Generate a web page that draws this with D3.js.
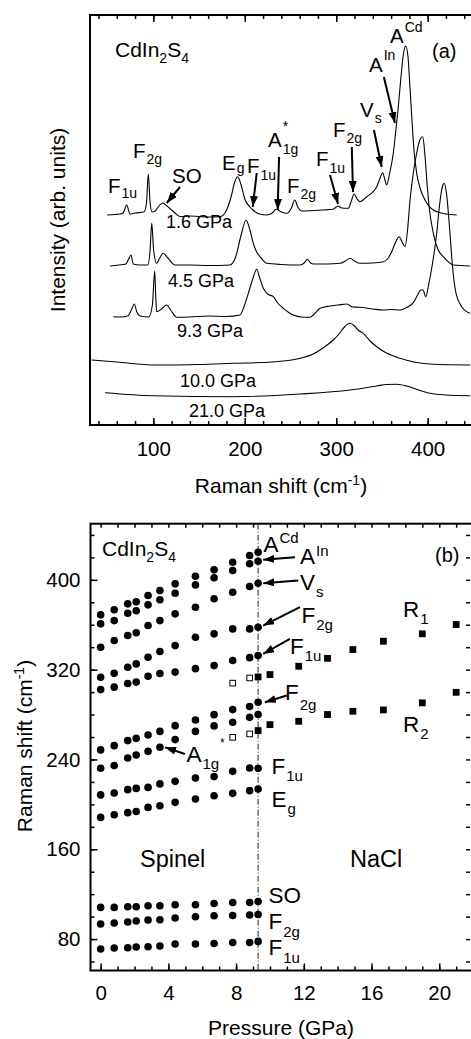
<!DOCTYPE html>
<html>
<head>
<meta charset="utf-8">
<script src="https://cdn.jsdelivr.net/npm/d3@7"></script>
<style>
  body { margin: 0; background: #fff; }
  text { font-family: "Liberation Sans", Arial, Helvetica, sans-serif; fill: #000; }
  .tick text { font-size: 20.5px; font-family: "Liberation Sans", Arial, sans-serif; }
  .tick line { stroke: #000; stroke-width: 1.5; }
</style>
</head>
<body>
<script>
// ---- panel (a): Raman spectra, [raman shift (cm-1), intensity (arb.)] ----
var spec16 = [[49.4,210],[58,210.5],[63.6,211],[67,212],[70.9,220],[74.5,211],[80,212],[89.8,213],[92.5,222],[94.5,251],[96.5,222],[98.6,213],[102,214],[106,219],[110.3,222],[115,219],[123.7,212],[129.2,208.5],[140,209],[150,208.5],[160,208],[172.9,208.3],[179,213],[185,228],[189,243],[192.3,248.3],[196,240],[200,226],[205.7,218],[209,215],[216,211],[224,210],[230,212],[234.2,215.7],[240,213],[245.9,211.7],[251,217],[254.6,225],[258,218],[262.3,214],[271.4,214.3],[285,215],[296.5,215.7],[302,219],[306,217],[313.2,216.7],[316.5,224],[319.5,230.7],[323,226],[326,223.3],[333.4,228.3],[340,233],[344.3,238.3],[348,247],[350.8,252.3],[353,246],[355.2,240],[358,250],[362.4,271.7],[365,293],[367.9,318.3],[371,350],[373.5,371],[376,379],[378.5,368],[380.5,340],[382.6,308.3],[385,275],[388,251.7],[392,236],[397.1,225],[406.2,215],[420,211],[431.8,210]];
var spec45 = [[52.7,159],[62,160],[70,161],[73,166],[75.6,170],[78.1,161],[85,160],[94,160],[96.5,175],[98.3,202],[100.3,175],[103.7,161.7],[107,167],[110.9,171.7],[116,167],[123.7,160],[140,160],[160,159.5],[183.9,160],[190,168],[196,190],[201.4,205],[205,197],[209.4,181.7],[213,173],[216.7,168.3],[224,161.7],[240,160.5],[260.4,160],[265,162],[268.4,165.7],[272,162],[275,161],[290,161],[304.2,161.7],[310,164],[315.1,166.7],[320,164],[326,161.7],[340,162],[351.5,163.3],[356,166],[360.7,173.3],[365,183],[368.7,188.3],[372,183],[375.2,178.3],[378,195],[380.7,225],[384,250],[388,272],[391,284],[394.6,288.3],[397,270],[399.6,238.3],[402,215],[406.2,191.7],[411,176],[417.1,168.3],[428.1,160],[446.3,159]];
var spec93 = [[56.3,108.3],[65,108],[72,109],[76,115],[79.2,121],[82,113],[85.5,109],[95,108],[99,120],[101.5,154],[102.8,125],[103.7,113.3],[109,116],[114.7,120],[119,115],[125.6,107.7],[140,108],[160,109],[180,108.5],[194.8,110],[199,118],[203.9,131.7],[208,144],[213.1,155.7],[216,148],[220.3,136.7],[225,131],[231.2,128.3],[236,122],[242.2,116.7],[253.1,110],[262,108],[271.4,107.7],[277,112],[282.3,116.7],[293.2,119],[302,120],[311.5,121],[318,118],[326,117.7],[340,116],[351.5,115],[360,115.5],[369.8,115],[378,118],[384.3,122.3],[389,130],[392.5,135],[394.9,135],[397.9,128.3],[401,140],[405,160],[409.9,191.7],[413,220],[416,238],[418.2,241.7],[420.5,232],[424.4,191.7],[427,160],[431,131.7],[437.2,118.3],[446.3,111.7]];
var spec100 = [[32.6,65],[60,63],[101.9,60],[150,60.5],[187.5,61.7],[230,63],[260.4,66.7],[275,71],[282.3,75],[290,80],[296.8,85],[303,91],[309,98],[315.1,101.7],[320,99],[324,95],[329.6,91.7],[337,84],[344.3,78.3],[355,72],[369.8,66.7],[385,63],[406.2,60.7],[446.3,60]];
var spec210 = [[47.2,32.3],[100,29.3],[187.5,28.3],[260.4,31],[315.1,35],[344.3,39],[355,40.5],[366.2,40.7],[377,39],[388,35.7],[402.6,31.7],[420,30],[446.3,29.3]];
var spectra = [spec16, spec45, spec93, spec100, spec210];
var specLabels = ["1.6 GPa", "4.5 GPa", "9.3 GPa", "10.0 GPa", "21.0 GPa"];
var ramanTicks = [100, 200, 300, 400];

// ---- panel (b): mode frequencies vs pressure ----
var spinelP = [0, 0.8, 1.6, 2.1, 2.8, 3.5, 4.4, 5.6, 6.7, 7.8, 8.8, 9.3];
var aCd  = [368.8, 373.3, 378.6, 380.4, 386.0, 390.5, 396.4, 403.2, 408.9, 415.7, 421.7, 424.6];
var aIn  = [360.8, 363.7, 370.2, 372.4, 377.7, 382.2, 388.1, 395.5, 401.8, 408.3, 414.3, 416.6];
var vS   = [339.9, 345.9, 350.4, 352.8, 359.3, 363.7, 369.7, 375.6, 383.1, 389.0, 394.0, 397.0];
var f2gHi = [313.2, 316.7, 322.1, 325.1, 331.0, 336.1, 341.4, 348.8, 351.9, 356.3, 356.3, 357.7];
var f1uHi = [302.2, 304.4, 307.6, 308.9, 314.1, 316.5, 317.8, 320.9, 323.6, 328.1, 330.7, 332.5];
var f2gMid = [248.5, 252.3, 256.8, 258.8, 261.8, 265.0, 270.1, 275.2, 279.9, 284.4, 287.1, 290.9];
var a1g  = [232.1, 234.5, 241.3, 244.0, 247.2, 250.8, 257.7, 265.0, 269.9, 273.1, 277.5, 280.0];
var f1uMid = [208.4, 210.1, 213.1, 214.2, 215.1, 218.2, 220.5, 223.5, 224.7, 229.4, 232.4, 232.1];
var eg   = [188.4, 190.8, 192.6, 193.7, 197.3, 198.8, 201.8, 204.8, 207.7, 209.8, 212.2, 213.7];
var so   = [108.2, 108.2, 108.8, 108.8, 109.7, 109.7, 110.6, 110.6, 111.7, 112.6, 112.6, 113.5];
var f2gLo = [93.4, 94.3, 95.2, 96.1, 97.0, 97.2, 98.7, 99.9, 100.8, 101.0, 101.4, 101.9];
var f1uLo = [71.1, 72.0, 72.3, 72.9, 73.2, 73.8, 75.6, 75.6, 76.1, 77.0, 77.0, 77.9];
var spinelModes = [aCd, aIn, vS, f2gHi, f1uHi, f2gMid, a1g, f1uMid, eg, so, f2gLo, f1uLo];
var naclP = [9.3, 10.0, 11.7, 13.4, 14.9, 16.7, 19.0, 21.0];
var r1 = [313.5, 315.6, 323.0, 330.1, 337.9, 345.3, 351.9, 360.2];
var r2 = [265.7, 271.0, 274.0, 280.0, 282.9, 284.1, 290.4, 299.8];
var openP = [7.8, 8.8];
var open1 = [308.0, 312.6];
var open2 = [259.7, 262.7];
var transitionP = 9.3;
var pressureTicks = [0, 4, 8, 12, 16, 20];
var shiftTicks = [80, 160, 240, 320, 400];

var W = 471, H = 1039;
var svg = d3.select("body").append("svg").attr("width", W).attr("height", H);

svg.append("defs").append("marker")
  .attr("id", "arr")
  .attr("markerUnits", "userSpaceOnUse")
  .attr("markerWidth", 11).attr("markerHeight", 8)
  .attr("refX", 11).attr("refY", 4)
  .attr("orient", "auto")
  .append("path").attr("d", "M0,0 L11,4 L0,8 z").attr("fill", "#000");

// label with optional sub/superscript placed after the base text
function mode(g, x, y, base, sub, sup, fs, sfs, subDy, supDy) {
  var t = g.append("text").attr("x", x).attr("y", y).style("font-size", fs + "px").text(base);
  var w = t.node().getComputedTextLength();
  if (sup) g.append("text").attr("x", x + w + 1).attr("y", y + supDy).style("font-size", sfs + "px").text(sup);
  if (sub) g.append("text").attr("x", x + w + 1).attr("y", y + subDy).style("font-size", sfs + "px").text(sub);
}

function compound(g, x, y) {
  var t = g.append("text").attr("x", x).attr("y", y).style("font-size", "21px");
  t.append("tspan").text("CdIn");
  t.append("tspan").attr("dy", 6).style("font-size", "14px").text("2");
  t.append("tspan").attr("dy", -6).text("S");
  t.append("tspan").attr("dy", 6).style("font-size", "14px").text("4");
}

function cmTitle(t, pre) {
  t.append("tspan").text(pre + " (cm");
  t.append("tspan").attr("dy", -8).style("font-size", "14px").text("-1");
  t.append("tspan").attr("dy", 8).text(")");
}

function cleanAxis(sel) {
  sel.select(".domain").remove();
  sel.attr("font-family", null).attr("font-size", null);
}

// ================= panel (a) =================
var xa = d3.scaleLinear().domain([30, 450]).range([89.3, 473.4]);
var ya = d3.scaleLinear().domain([0, 410]).range([425, 15]);
var ga = svg.append("g");

var minorA = d3.range(40, 451, 20);
ga.append("g").attr("transform", "translate(0,425)")
  .call(d3.axisBottom(xa).tickValues(minorA).tickSize(-4).tickFormat("")).call(cleanAxis);
ga.append("g").attr("transform", "translate(0,425)")
  .call(d3.axisBottom(xa).tickValues(ramanTicks).tickSize(-7).tickPadding(16)).call(cleanAxis);
ga.append("g").attr("transform", "translate(0,15)")
  .call(d3.axisTop(xa).tickValues(minorA).tickSize(-4).tickFormat("")).call(cleanAxis);
ga.append("g").attr("transform", "translate(0,15)")
  .call(d3.axisTop(xa).tickValues(ramanTicks).tickSize(-7).tickFormat("")).call(cleanAxis);

ga.append("rect").attr("x", xa.range()[0] + 0.7).attr("y", 15)
  .attr("width", xa.range()[1] - xa.range()[0]).attr("height", 410)
  .attr("fill", "none").attr("stroke", "#000").attr("stroke-width", 2);

var lineA = d3.line().x(d => xa(d[0])).y(d => ya(d[1])).curve(d3.curveMonotoneX);
ga.selectAll("path.spec").data(spectra).enter().append("path")
  .attr("class", "spec")
  .attr("d", lineA)
  .attr("fill", "none").attr("stroke", "#000").attr("stroke-width", 1.1);

// pressure labels under each spectrum
var specLabelPos = [[166, 228], [168, 287], [177, 337], [180, 387], [189, 417]];
ga.selectAll("text.plab").data(specLabels).enter().append("text")
  .attr("class", "plab")
  .attr("x", (d, i) => specLabelPos[i][0]).attr("y", (d, i) => specLabelPos[i][1])
  .style("font-size", "18px").text(d => d);

compound(ga, 115, 57);
ga.append("text").attr("x", 432).attr("y", 58).style("font-size", "20px").text("(a)");

mode(ga, 390, 43, "A", null, "Cd", 20.5, 14, 6, -11);
mode(ga, 369, 72, "A", null, "In", 20.5, 14, 6, -12);
mode(ga, 360, 117, "V", "s", null, 20.5, 14, 6, -11);
mode(ga, 333, 137, "F", "2g", null, 20.5, 14, 6, -11);
mode(ga, 316, 166, "F", "1u", null, 20.5, 14, 7, -11);
mode(ga, 287, 193, "F", "2g", null, 20.5, 14, 6, -11);
mode(ga, 268, 147, "A", "1g", "*", 20.5, 14, 7, -16);
mode(ga, 247, 173, "F", "1u", null, 20.5, 14, 7, -11);
mode(ga, 222, 170, "E", "g", null, 20.5, 14, 3, -11);
ga.append("text").attr("x", 172).attr("y", 183).style("font-size", "20.5px").text("SO");
mode(ga, 133, 158, "F", "2g", null, 20.5, 14, 6, -11);
mode(ga, 108, 193, "F", "1u", null, 20.5, 14, 5, -11);

// arrows, [tail raman, tail I, tip raman, tip I]
var arrowsA = [[129.2, 238, 114.7, 222], [213.1, 252, 208.7, 218], [237.5, 268, 236, 215],
  [293.2, 250, 302, 221], [317, 278, 318.4, 233], [341.2, 295, 349.7, 258], [352.1, 348, 364.2, 302]];
ga.selectAll("line.arr").data(arrowsA).enter().append("line")
  .attr("x1", d => xa(d[0])).attr("y1", d => ya(d[1]))
  .attr("x2", d => xa(d[2])).attr("y2", d => ya(d[3]))
  .attr("stroke", "#000").attr("stroke-width", 2).attr("marker-end", "url(#arr)");

var ytA = ga.append("text").attr("transform", "translate(65,220) rotate(-90)")
  .attr("text-anchor", "middle").style("font-size", "21px").text("Intensity (arb. units)");
var xtA = ga.append("text").attr("x", 281).attr("y", 493).attr("text-anchor", "middle").style("font-size", "21px");
cmTitle(xtA, "Raman shift");

// ================= panel (b) =================
var xb = d3.scaleLinear().domain([-0.6, 22]).range([90.5, 473.1]);
var yb = d3.scaleLinear().domain([52, 450]).range([970.5, 523.7]);
var gb = svg.append("g");
var bTop = yb.range()[1], bBot = yb.range()[0];

var minorP = d3.range(0, 22.1, 1);
var minorW = d3.range(60, 450, 20);
gb.append("g").attr("transform", "translate(0," + bBot + ")")
  .call(d3.axisBottom(xb).tickValues(minorP).tickSize(-4).tickFormat("")).call(cleanAxis);
gb.append("g").attr("transform", "translate(0," + bBot + ")")
  .call(d3.axisBottom(xb).tickValues(pressureTicks).tickSize(-7).tickPadding(15)).call(cleanAxis);
gb.append("g").attr("transform", "translate(0," + bTop + ")")
  .call(d3.axisTop(xb).tickValues(minorP).tickSize(-4).tickFormat("")).call(cleanAxis);
gb.append("g").attr("transform", "translate(" + xb.range()[0] + ",0)")
  .call(d3.axisLeft(yb).tickValues(minorW).tickSize(-4).tickFormat("")).call(cleanAxis);
gb.append("g").attr("transform", "translate(" + xb.range()[0] + ",0)")
  .call(d3.axisLeft(yb).tickValues(shiftTicks).tickSize(-7).tickPadding(10)).call(cleanAxis);
gb.append("g").attr("transform", "translate(" + (xb.range()[1] - 3) + ",0)")
  .call(d3.axisRight(yb).tickValues(minorW).tickSize(-4).tickFormat("")).call(cleanAxis);

gb.append("rect").attr("x", xb.range()[0]).attr("y", bTop)
  .attr("width", xb.range()[1] - xb.range()[0]).attr("height", bBot - bTop)
  .attr("fill", "none").attr("stroke", "#000").attr("stroke-width", 2);

// phase boundary
gb.append("line")
  .attr("x1", xb(transitionP)).attr("x2", xb(transitionP))
  .attr("y1", bTop).attr("y2", bBot)
  .attr("stroke", "#444").attr("stroke-width", 1.2).attr("stroke-dasharray", "6,2,1,2");

// spinel modes (filled circles)
spinelModes.forEach(function(s) {
  gb.selectAll(null).data(s).enter().append("circle")
    .attr("cx", (d, i) => xb(spinelP[i])).attr("cy", d => yb(d))
    .attr("r", 3.8).attr("fill", "#000");
});
// NaCl phase (filled squares)
[r1, r2].forEach(function(s) {
  gb.selectAll(null).data(s).enter().append("rect")
    .attr("x", (d, i) => xb(naclP[i]) - 3.4).attr("y", d => yb(d) - 3.4)
    .attr("width", 6.8).attr("height", 6.8).attr("fill", "#000");
});
// open squares
[open1, open2].forEach(function(s) {
  gb.selectAll(null).data(s).enter().append("rect")
    .attr("x", (d, i) => xb(openP[i]) - 2.8).attr("y", d => yb(d) - 2.8)
    .attr("width", 5.6).attr("height", 5.6).attr("fill", "#fff")
    .attr("stroke", "#000").attr("stroke-width", 1);
});

compound(gb, 102, 556);
gb.append("text").attr("x", 435).attr("y", 562).style("font-size", "20px").text("(b)");

mode(gb, 263.5, 552, "A", null, "Cd", 22.5, 15, 7, -9);
mode(gb, 300, 564, "A", null, "In", 22.5, 15, 7, -8);
mode(gb, 300, 590, "V", "s", null, 22.5, 15, 7, -9);
mode(gb, 301.5, 623, "F", "2g", null, 22.5, 15, 7, -9);
mode(gb, 290, 653.5, "F", "1u", null, 22.5, 15, 7, -9);
mode(gb, 285, 700, "F", "2g", null, 22.5, 15, 10, -9);
mode(gb, 403, 617, "R", "1", null, 22.5, 15, 7, -9);
mode(gb, 403, 732, "R", "2", null, 22.5, 15, 7, -9);
mode(gb, 186.5, 762, "A", "1g", null, 22.5, 15, 7, -9);
gb.append("text").attr("x", 220).attr("y", 747).style("font-size", "12px").text("*");
mode(gb, 271.5, 773.5, "F", "1u", null, 22.5, 15, 7, -9);
mode(gb, 271.5, 806.5, "E", "g", null, 22.5, 15, 7, -9);
gb.append("text").attr("x", 140).attr("y", 867).style("font-size", "23.5px").text("Spinel");
gb.append("text").attr("x", 350).attr("y", 867).style("font-size", "23.5px").text("NaCl");
gb.append("text").attr("x", 268.5).attr("y", 903).style("font-size", "22.5px").text("SO");
mode(gb, 268.5, 928.5, "F", "2g", null, 22.5, 15, 8, -9);
mode(gb, 268.5, 955, "F", "1u", null, 22.5, 15, 8, -9);

// arrows, [tail P, tail w, tip P, tip w]
var arrowsB = [[11.48, 420.1, 9.6, 417.8], [11.67, 399.4, 9.6, 397], [11.77, 375.6, 9.6, 359.3],
  [11.18, 347.4, 9.6, 334], [10.99, 296.9, 9.7, 290.9], [4.98, 244.9, 3.8, 250.8]];
gb.selectAll("line.arr").data(arrowsB).enter().append("line")
  .attr("x1", d => xb(d[0])).attr("y1", d => yb(d[1]))
  .attr("x2", d => xb(d[2])).attr("y2", d => yb(d[3]))
  .attr("stroke", "#000").attr("stroke-width", 2).attr("marker-end", "url(#arr)");

var ytB = gb.append("text").attr("transform", "translate(32,746) rotate(-90)")
  .attr("text-anchor", "middle").style("font-size", "21px");
cmTitle(ytB, "Raman shift");
gb.append("text").attr("x", 281).attr("y", 1035).attr("text-anchor", "middle")
  .style("font-size", "21px").text("Pressure (GPa)");
</script>
</body>
</html>
